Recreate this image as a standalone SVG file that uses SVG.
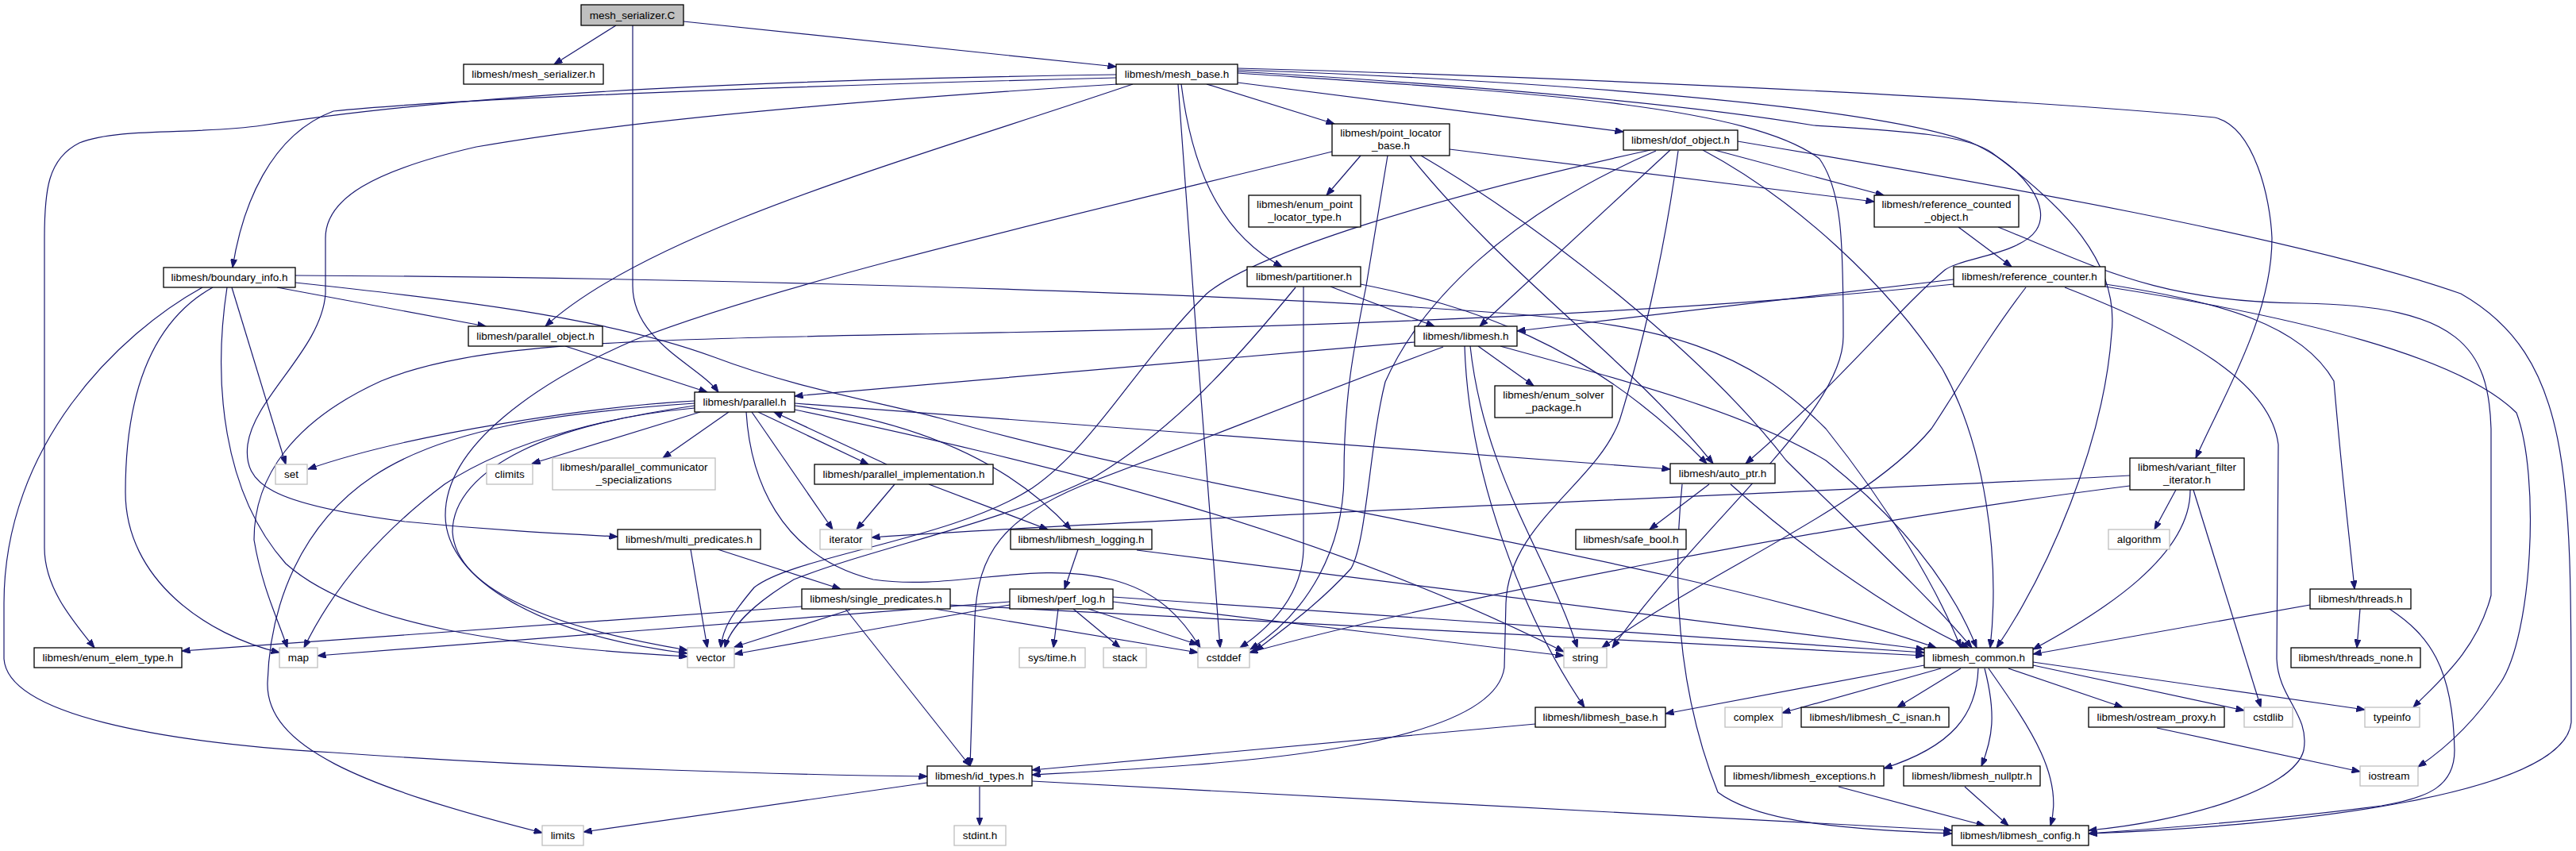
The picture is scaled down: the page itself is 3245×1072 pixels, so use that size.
<svg xmlns="http://www.w3.org/2000/svg" width="3245" height="1072" viewBox="0 0 3245 1072">
<style>
.bg{fill:#ffffff}
.n rect{fill:#ffffff;stroke:#000000;stroke-width:1.3}
.g rect{fill:#ffffff;stroke:#bfbfbf;stroke-width:1.3}
.r rect{fill:#bfbfbf;stroke:#000000;stroke-width:1.3}
text{font-family:"Liberation Sans",Arial,sans-serif;font-size:13.5px;fill:#000000;text-anchor:middle}
#edges path{fill:none;stroke:#191970;stroke-width:1.2;marker-end:url(#ah)}
</style>
<defs>
<marker id="ah" markerUnits="userSpaceOnUse" markerWidth="11" markerHeight="8" refX="10.5" refY="4" orient="auto">
<path d="M0,0 L10.5,4 L0,8 z" fill="#191970" stroke="#191970" stroke-width="1"/>
</marker>
</defs>
<rect class="bg" x="0" y="0" width="3245" height="1072"/>
<g id="edges">
<path d="M776,32 L698,81"/>
<path d="M861,27 L1406,84"/>
<path d="M797,32 L797,360 C797,430 880,460 905,494"/>
<path d="M1406,98 C1000,108 560,125 420,140 C340,170 305,260 293,337"/>
<path d="M1406,94 C1000,100 600,115 330,158 C250,170 150,160 100,180 C60,200 56,240 56,300 L56,690 C56,740 90,780 119,816"/>
<path d="M1408,106 C1100,125 800,150 600,185 C470,215 410,250 410,300 L410,370 C405,440 320,500 312,560 C306,610 340,635 510,657 C620,668 700,672 778,676"/>
<path d="M1427,106 C1150,200 820,290 687,411"/>
<path d="M1520,106 L1681,156"/>
<path d="M1559,104 L2045,166"/>
<path d="M1488,106 C1500,200 1530,290 1615,336"/>
<path d="M1484,106 C1500,330 1520,600 1537,816"/>
<path d="M1559,86 C1900,95 2500,120 2790,148 C2840,160 2860,250 2862,300 C2862,400 2800,500 2766,577"/>
<path d="M1559,88 C1900,100 2350,130 2482,179 C2550,210 2585,260 2565,290 C2545,320 2470,325 2450,340 C2390,390 2320,480 2199,584"/>
<path d="M1559,90 C1900,110 2150,135 2285,158 C2400,165 2480,170 2510,193 C2600,260 2670,330 2660,420 C2650,560 2580,720 2515,816"/>
<path d="M1559,92 C1900,115 2200,130 2292,200 C2320,240 2322,300 2322,424 C2322,520 2150,650 2031,816"/>
<path d="M349,362 L612,411"/>
<path d="M292,362 L360,585"/>
<path d="M268,362 C200,400 158,480 158,620 C158,730 260,800 352,822"/>
<path d="M286,362 C268,480 280,620 360,710 C450,790 650,815 866,827"/>
<path d="M255,362 C150,420 5,560 5,760 L5,830 C10,900 200,935 420,948 C700,968 1000,976 1168,978"/>
<path d="M372,347 C800,349 1500,365 1900,395 C2100,410 2200,440 2300,540 C2380,640 2440,740 2470,816"/>
<path d="M372,356 C550,375 760,398 900,450 C1000,488 1100,505 1185,527 C1500,620 2100,700 2439,816"/>
<path d="M712,436 L891,494"/>
<path d="M875,505 C750,512 520,545 388,591"/>
<path d="M875,511 C780,525 650,550 560,610 C480,670 420,740 383,816"/>
<path d="M875,514 C700,530 570,590 570,670 C575,750 720,795 866,819"/>
<path d="M875,508 C700,520 560,540 470,600 C380,660 340,760 337,860 C335,940 450,990 683,1049"/>
<path d="M882,519 L670,584"/>
<path d="M918,519 L835,577"/>
<path d="M955,519 L1094,585"/>
<path d="M1117,585 L975,519"/>
<path d="M947,519 L1049,667"/>
<path d="M940,519 C945,600 980,700 1100,730 C1200,745 1300,705 1400,730 C1460,745 1490,780 1512,816"/>
<path d="M1001,511 C1150,530 1270,580 1349,667"/>
<path d="M1001,508 L2104,591"/>
<path d="M1001,516 C1300,580 1650,660 1970,821"/>
<path d="M1127,610 L1079,667"/>
<path d="M1170,610 L1320,667"/>
<path d="M1714,196 L1671,246"/>
<path d="M1826,188 L2361,254"/>
<path d="M1678,191 C1400,260 1000,350 800,428 C680,480 560,560 561,650 C562,730 680,800 866,823"/>
<path d="M1748,196 L1721,360 C1705,440 1693,500 1693,600 C1692,690 1650,770 1575,818"/>
<path d="M1776,196 C1900,350 2050,450 2158,584"/>
<path d="M1790,196 C1950,290 2150,450 2250,580 C2330,660 2420,740 2484,816"/>
<path d="M2160,189 L2373,246"/>
<path d="M2104,189 L1864,411"/>
<path d="M2079,189 C1800,250 1580,320 1520,370 C1430,460 1380,560 1300,615 C1200,680 1000,700 950,740 C925,770 910,790 908,816"/>
<path d="M2086,190 C1900,270 1790,380 1745,481 C1725,560 1722,680 1702,716 C1662,760 1620,790 1581,820"/>
<path d="M2114,190 C2095,330 2065,450 2040,530 C2010,610 1900,660 1897,760 L1895,841 C1880,950 1500,965 1300,976"/>
<path d="M2145,189 C2260,250 2380,360 2447,465 C2500,560 2520,700 2507,816"/>
<path d="M2189,178 C2500,230 2900,300 3100,370 C3240,450 3239,600 3239,910 C3230,1000 2900,1040 2631,1050"/>
<path d="M1676,361 L1807,411"/>
<path d="M1714,358 C1850,385 2000,430 2150,584"/>
<path d="M1642,361 L1642,693 C1640,750 1600,790 1562,816"/>
<path d="M1632,362 C1560,450 1480,540 1380,600 C1260,660 1100,690 1000,730 C950,760 920,790 913,816"/>
<path d="M1782,431 C1500,455 1200,480 1001,499"/>
<path d="M1862,436 L1932,486"/>
<path d="M1852,436 C1870,600 1950,700 1987,816"/>
<path d="M1845,436 C1850,600 1920,780 1996,891"/>
<path d="M1818,437 C1700,480 1500,560 1380,605 C1260,650 1232,700 1228,778 L1222,965"/>
<path d="M1890,436 C2050,480 2200,520 2300,580 C2400,660 2460,740 2490,816"/>
<path d="M2461,352 L1911,417"/>
<path d="M2461,358 C2200,385 1800,410 1200,420 C800,428 600,430 480,480 C370,530 320,600 320,680 C330,740 350,780 362,816"/>
<path d="M2552,362 C2500,430 2460,500 2433,540 C2350,640 2150,720 2018,816"/>
<path d="M2652,358 C2800,380 2900,410 2940,480 C2950,600 2960,680 2966,742"/>
<path d="M2652,361 C2900,400 3100,450 3170,520 C3200,600 3190,800 3150,860 C3110,920 3070,950 3046,966"/>
<path d="M2601,362 C2750,420 2860,480 2870,560 L2868,830 C2870,880 2910,900 2902,945 C2890,995 2750,1035 2631,1046"/>
<path d="M2467,286 L2534,336"/>
<path d="M2517,286 C2650,340 2720,380 2900,382 C3100,385 3135,440 3138,540 L3138,750 C3120,820 3070,860 3040,891"/>
<path d="M2153,610 L2078,667"/>
<path d="M2180,610 C2280,700 2400,780 2480,816"/>
<path d="M2119,610 C2110,700 2105,850 2164,998 C2220,1040 2350,1045 2459,1050"/>
<path d="M2683,599 C2300,620 1500,650 1098,677"/>
<path d="M2683,612 C2300,660 1800,760 1574,822"/>
<path d="M2741,617 L2714,667"/>
<path d="M2759,617 C2760,700 2650,770 2561,818"/>
<path d="M2763,617 L2848,891"/>
<path d="M904,692 L1059,742"/>
<path d="M870,692 L891,816"/>
<path d="M1010,764 L229,820"/>
<path d="M1071,768 L925,815"/>
<path d="M1065,767 L1222,965"/>
<path d="M1177,767 L1509,822"/>
<path d="M1197,762 L2424,826"/>
<path d="M1333,767 L1327,816"/>
<path d="M1352,767 L1411,816"/>
<path d="M1371,767 L1509,812"/>
<path d="M1272,762 L925,824"/>
<path d="M1272,758 L400,826"/>
<path d="M1402,758 L1970,826"/>
<path d="M1402,752 L2424,822"/>
<path d="M1358,692 L1341,742"/>
<path d="M1432,693 L2424,818"/>
<path d="M2910,762 L2561,824"/>
<path d="M2973,767 L2969,816"/>
<path d="M3010,767 C3060,800 3090,840 3092,945 C3092,990 3060,1005 3000,1015 C2850,1035 2700,1045 2631,1050"/>
<path d="M2424,838 L2098,899"/>
<path d="M2445,842 L2245,898"/>
<path d="M2470,842 L2390,891"/>
<path d="M2492,842 C2490,900 2460,940 2373,968"/>
<path d="M2500,842 C2515,900 2510,930 2496,965"/>
<path d="M2505,842 C2560,920 2600,980 2583,1040"/>
<path d="M2530,842 L2674,891"/>
<path d="M2561,838 L2827,895"/>
<path d="M2561,834 L2979,894"/>
<path d="M2717,917 L2973,972"/>
<path d="M1934,912 L1300,970"/>
<path d="M2316,991 L2500,1040"/>
<path d="M2475,991 L2530,1040"/>
<path d="M1234,991 L1234,1040"/>
<path d="M1168,986 L735,1048"/>
<path d="M1300,984 L2459,1046"/>
</g>
<g id="mesh_serializer_C" class="r"><rect x="732" y="6" width="129" height="26"/><text x="796.5" y="24">mesh_serializer.C</text></g>
<g id="mesh_serializer_h" class="n"><rect x="584" y="81" width="176" height="25"/><text x="672" y="98">libmesh/mesh_serializer.h</text></g>
<g id="mesh_base_h" class="n"><rect x="1406" y="81" width="153" height="25"/><text x="1482.5" y="98">libmesh/mesh_base.h</text></g>
<g id="boundary_info_h" class="n"><rect x="206" y="337" width="166" height="25"/><text x="289" y="354">libmesh/boundary_info.h</text></g>
<g id="parallel_object_h" class="n"><rect x="590" y="411" width="169" height="25"/><text x="674.5" y="428">libmesh/parallel_object.h</text></g>
<g id="parallel_h" class="n"><rect x="875" y="494" width="126" height="25"/><text x="938" y="511">libmesh/parallel.h</text></g>
<g id="point_locator_base_h" class="n"><rect x="1678" y="156" width="148" height="40"/><text x="1752" y="172">libmesh/point_locator</text><text x="1752" y="188">_base.h</text></g>
<g id="dof_object_h" class="n"><rect x="2045" y="164" width="144" height="25"/><text x="2117" y="181">libmesh/dof_object.h</text></g>
<g id="enum_point_locator_type_h" class="n"><rect x="1573" y="246" width="141" height="40"/><text x="1643.5" y="262">libmesh/enum_point</text><text x="1643.5" y="278">_locator_type.h</text></g>
<g id="partitioner_h" class="n"><rect x="1571" y="336" width="143" height="25"/><text x="1642.5" y="353">libmesh/partitioner.h</text></g>
<g id="reference_counted_object_h" class="n"><rect x="2361" y="246" width="182" height="40"/><text x="2452" y="262">libmesh/reference_counted</text><text x="2452" y="278">_object.h</text></g>
<g id="reference_counter_h" class="n"><rect x="2461" y="336" width="191" height="25"/><text x="2556.5" y="353">libmesh/reference_counter.h</text></g>
<g id="libmesh_h" class="n"><rect x="1782" y="411" width="129" height="25"/><text x="1846.5" y="428">libmesh/libmesh.h</text></g>
<g id="enum_solver_package_h" class="n"><rect x="1883" y="486" width="148" height="40"/><text x="1957" y="502">libmesh/enum_solver</text><text x="1957" y="518">_package.h</text></g>
<g id="set" class="g"><rect x="347" y="585" width="40" height="25"/><text x="367" y="602">set</text></g>
<g id="climits" class="g"><rect x="613" y="585" width="58" height="25"/><text x="642" y="602">climits</text></g>
<g id="parallel_communicator_specializations" class="g"><rect x="696" y="577" width="205" height="40"/><text x="798.5" y="593">libmesh/parallel_communicator</text><text x="798.5" y="609">_specializations</text></g>
<g id="parallel_implementation_h" class="n"><rect x="1026" y="585" width="225" height="25"/><text x="1138.5" y="602">libmesh/parallel_implementation.h</text></g>
<g id="auto_ptr_h" class="n"><rect x="2104" y="584" width="132" height="25"/><text x="2170" y="601">libmesh/auto_ptr.h</text></g>
<g id="variant_filter_iterator_h" class="n"><rect x="2683" y="577" width="144" height="40"/><text x="2755" y="593">libmesh/variant_filter</text><text x="2755" y="609">_iterator.h</text></g>
<g id="multi_predicates_h" class="n"><rect x="778" y="667" width="180" height="25"/><text x="868" y="684">libmesh/multi_predicates.h</text></g>
<g id="iterator" class="g"><rect x="1033" y="667" width="65" height="25"/><text x="1065.5" y="684">iterator</text></g>
<g id="libmesh_logging_h" class="n"><rect x="1273" y="667" width="178" height="25"/><text x="1362" y="684">libmesh/libmesh_logging.h</text></g>
<g id="safe_bool_h" class="n"><rect x="1985" y="667" width="139" height="25"/><text x="2054.5" y="684">libmesh/safe_bool.h</text></g>
<g id="algorithm" class="g"><rect x="2656" y="667" width="77" height="25"/><text x="2694.5" y="684">algorithm</text></g>
<g id="single_predicates_h" class="n"><rect x="1010" y="742" width="187" height="25"/><text x="1103.5" y="759">libmesh/single_predicates.h</text></g>
<g id="perf_log_h" class="n"><rect x="1272" y="742" width="130" height="25"/><text x="1337" y="759">libmesh/perf_log.h</text></g>
<g id="threads_h" class="n"><rect x="2910" y="742" width="127" height="25"/><text x="2973.5" y="759">libmesh/threads.h</text></g>
<g id="enum_elem_type_h" class="n"><rect x="43" y="816" width="186" height="25"/><text x="136" y="833">libmesh/enum_elem_type.h</text></g>
<g id="map" class="g"><rect x="352" y="816" width="48" height="25"/><text x="376" y="833">map</text></g>
<g id="vector" class="g"><rect x="866" y="816" width="59" height="25"/><text x="895.5" y="833">vector</text></g>
<g id="sys_time_h" class="g"><rect x="1284" y="816" width="83" height="25"/><text x="1325.5" y="833">sys/time.h</text></g>
<g id="stack" class="g"><rect x="1390" y="816" width="54" height="25"/><text x="1417" y="833">stack</text></g>
<g id="cstddef" class="g"><rect x="1509" y="816" width="65" height="25"/><text x="1541.5" y="833">cstddef</text></g>
<g id="string" class="g"><rect x="1970" y="816" width="54" height="25"/><text x="1997" y="833">string</text></g>
<g id="libmesh_common_h" class="n"><rect x="2424" y="816" width="137" height="25"/><text x="2492.5" y="833">libmesh_common.h</text></g>
<g id="threads_none_h" class="n"><rect x="2886" y="816" width="163" height="25"/><text x="2967.5" y="833">libmesh/threads_none.h</text></g>
<g id="libmesh_base_h" class="n"><rect x="1934" y="891" width="164" height="25"/><text x="2016" y="908">libmesh/libmesh_base.h</text></g>
<g id="complex" class="g"><rect x="2173" y="891" width="72" height="25"/><text x="2209" y="908">complex</text></g>
<g id="libmesh_C_isnan_h" class="n"><rect x="2269" y="891" width="186" height="25"/><text x="2362" y="908">libmesh/libmesh_C_isnan.h</text></g>
<g id="ostream_proxy_h" class="n"><rect x="2631" y="891" width="171" height="25"/><text x="2716.5" y="908">libmesh/ostream_proxy.h</text></g>
<g id="cstdlib" class="g"><rect x="2827" y="891" width="61" height="25"/><text x="2857.5" y="908">cstdlib</text></g>
<g id="typeinfo" class="g"><rect x="2979" y="891" width="69" height="25"/><text x="3013.5" y="908">typeinfo</text></g>
<g id="id_types_h" class="n"><rect x="1168" y="965" width="132" height="25"/><text x="1234" y="982">libmesh/id_types.h</text></g>
<g id="libmesh_exceptions_h" class="n"><rect x="2173" y="965" width="200" height="25"/><text x="2273" y="982">libmesh/libmesh_exceptions.h</text></g>
<g id="libmesh_nullptr_h" class="n"><rect x="2398" y="965" width="172" height="25"/><text x="2484" y="982">libmesh/libmesh_nullptr.h</text></g>
<g id="iostream" class="g"><rect x="2973" y="965" width="73" height="25"/><text x="3009.5" y="982">iostream</text></g>
<g id="limits" class="g"><rect x="683" y="1040" width="52" height="25"/><text x="709" y="1057">limits</text></g>
<g id="stdint_h" class="g"><rect x="1202" y="1040" width="65" height="25"/><text x="1234.5" y="1057">stdint.h</text></g>
<g id="libmesh_config_h" class="n"><rect x="2459" y="1040" width="172" height="25"/><text x="2545" y="1057">libmesh/libmesh_config.h</text></g>
</svg>
